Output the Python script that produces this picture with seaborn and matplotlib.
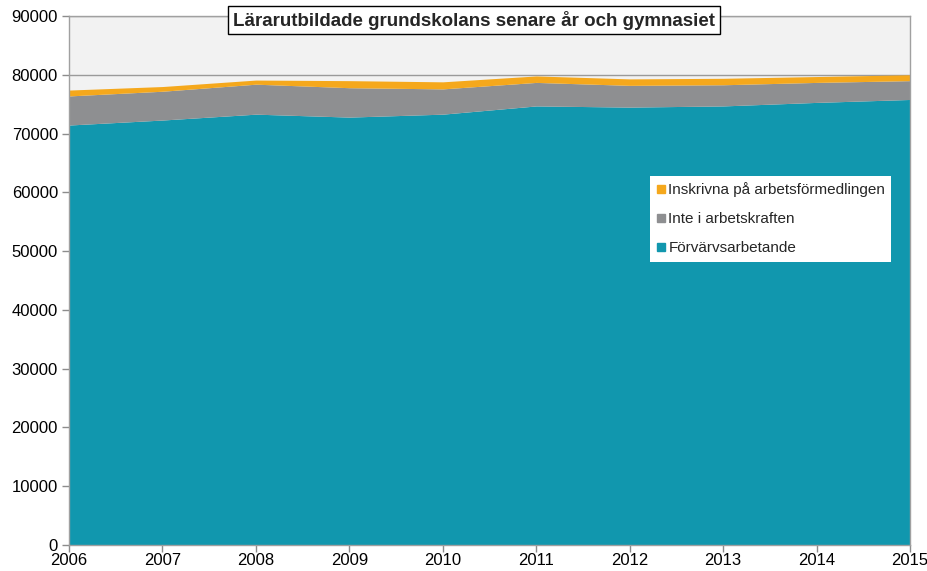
import numpy as np
import matplotlib
matplotlib.use("Agg")
import matplotlib.pyplot as plt
from matplotlib.lines import Line2D
import seaborn as sns

sns.set_theme(style="white")
plt.rcParams['font.family'] = ['Liberation Sans', 'DejaVu Sans']

# Data
years = [2006, 2007, 2008, 2009, 2010, 2011, 2012, 2013, 2014, 2015]
forvarvsarbetande = [71450, 72300, 73300, 72800, 73300, 74700, 74500, 74700, 75300, 75800]
inte_i_arbetskraften = [4950, 4900, 5100, 5000, 4300, 4000, 3700, 3600, 3400, 3200]
inskrivna = [1000, 800, 700, 1200, 1200, 1100, 1100, 1100, 1000, 1000]

labels = ["Förvärvsarbetande", "Inte i arbetskraften", "Inskrivna på arbetsförmedlingen"]
colors = ["#1197AE", "#8E8F91", "#F5A81C"]

fig = plt.figure(figsize=(9.27, 5.71), dpi=100)
ax = fig.add_axes([69 / 927, 26 / 571, 841 / 927, 529 / 571])
ax.set_facecolor("#F2F2F2")

ax.stackplot(years, forvarvsarbetande, inte_i_arbetskraften, inskrivna,
             colors=colors, linewidth=0, zorder=2)

ax.set_xlim(2006, 2015)
ax.set_ylim(0, 90000)
ax.set_xticks(years)
ax.set_yticks(np.arange(0, 90001, 10000))
ax.yaxis.grid(True, color="#9A9A9A", linewidth=1, zorder=1)
ax.set_axisbelow(True)

for s in ax.spines.values():
    s.set_color("#A0A0A0")
    s.set_linewidth(1)
ax.tick_params(axis="both", which="both", direction="out", length=5, width=1,
               color="#8C8C8C", labelsize=12, labelcolor="black",
               bottom=True, left=True)
ax.tick_params(axis="x", pad=1)
ax.tick_params(axis="y", pad=3)

ax.text(0.4816, 0.9924, "Lärarutbildade grundskolans senare år och gymnasiet",
        transform=ax.transAxes, ha="center", va="center", fontsize=13.5,
        fontweight="bold", zorder=5,
        bbox=dict(boxstyle="square,pad=0.25", facecolor="white",
                  edgecolor="black", linewidth=1))

handles = [Line2D([], [], marker="s", linestyle="", color=c, markersize=6)
           for c in colors[::-1]]
leg = ax.legend(handles, labels[::-1], loc="upper left",
                bbox_to_anchor=(0.691, 0.698), frameon=True, fancybox=False,
                facecolor="white", edgecolor="white", framealpha=1,
                fontsize=11, handlelength=0.6, handletextpad=0.2,
                labelspacing=1.0, borderpad=0.4, borderaxespad=0)
leg.get_frame().set_linewidth(0)

fig.savefig("out.png", dpi=100)
